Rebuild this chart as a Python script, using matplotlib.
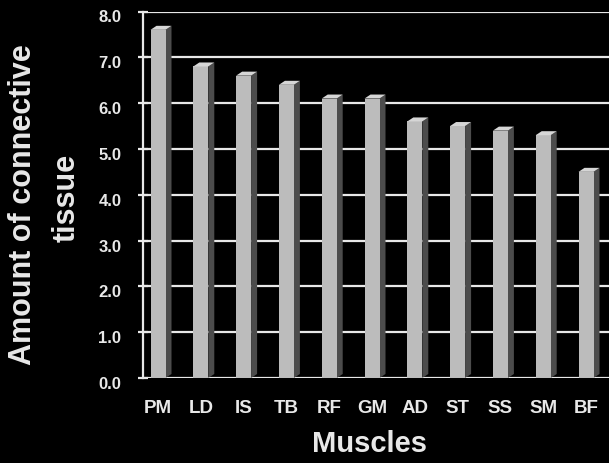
import matplotlib
matplotlib.use("Agg")
import matplotlib.pyplot as plt
from matplotlib.patches import Polygon
import matplotlib.transforms as mtransforms

# Connective tissue amount per muscle
muscles = ["PM", "LD", "IS", "TB", "RF", "GM", "AD", "ST", "SS", "SM", "BF"]
amounts = [7.6, 6.8, 6.6, 6.4, 6.1, 6.1, 5.6, 5.5, 5.4, 5.3, 4.5]
y_ticks = [0.0, 1.0, 2.0, 3.0, 4.0, 5.0, 6.0, 7.0, 8.0]

W, H, DPI = 609, 463, 100
BG = "#000000"
FG = "#e8e8e8"
FRONT = "#bcbcbc"
SIDE = "#4c4c4c"
TOP = "#d6d6d6"

plt.rcParams["font.family"] = ["Liberation Sans", "DejaVu Sans"]
plt.rcParams["font.weight"] = "bold"

fig = plt.figure(figsize=(W / DPI, H / DPI), dpi=DPI, facecolor=BG)
ax_left, ax_right = 143 / W, 1.0
ax_top, ax_bot = 1 - 11.5 / H, 1 - 378 / H
ax = fig.add_axes([ax_left, ax_bot, ax_right - ax_left, ax_top - ax_bot])
ax.set_facecolor(BG)

slot_px = 42.8
unit_px = (378 - 11.5) / 8.0
x = list(range(len(muscles)))
ax.set_xlim(-15 / slot_px, (W - 143 - 15) / slot_px)
ax.set_ylim(0, 8)

# horizontal grid on the back wall
for t in y_ticks:
    ax.axhline(t, color=FG, lw=1.6, zorder=1)

bar_w = 15 / slot_px
depth_x = 6 / slot_px
depth_y = 4 / unit_px
bars = ax.bar(x, amounts, width=bar_w, color=FRONT, edgecolor="none", zorder=3)

# side and top faces for the 3-D look
for b in bars:
    x0 = b.get_x()
    x1 = x0 + b.get_width()
    v = b.get_height()
    side = Polygon([(x1, 0), (x1 + depth_x, depth_y), (x1 + depth_x, v + depth_y), (x1, v)],
                   closed=True, facecolor=SIDE, edgecolor="none", zorder=2.5)
    top = Polygon([(x0, v), (x1, v), (x1 + depth_x, v + depth_y), (x0 + depth_x, v + depth_y)],
                  closed=True, facecolor=TOP, edgecolor="none", zorder=3)
    ax.add_patch(side)
    ax.add_patch(top)

for s in ["top", "right", "bottom"]:
    ax.spines[s].set_visible(False)
ax.spines["left"].set_color(FG)
ax.spines["left"].set_linewidth(1.6)

ax.set_yticks(y_ticks)
ax.set_yticklabels([f"{t:.1f}" for t in y_ticks])
ax.tick_params(axis="y", direction="inout", length=7, width=1.6, color=FG,
               labelcolor=FG, labelsize=12, pad=12)
ax.set_xticks(x)
ax.set_xticklabels(muscles)
ax.tick_params(axis="x", length=0, labelcolor=FG, labelsize=13.5, pad=16)

# tick labels sit a little below the back-wall grid lines
shift = mtransforms.ScaledTranslation(0, -5 / DPI, fig.dpi_scale_trans)
for lab in ax.get_yticklabels():
    lab.set_transform(lab.get_transform() + shift)
    lab.set_fontweight("bold")
for lab in ax.get_xticklabels():
    lab.set_fontweight("bold")

fig.text(369 / W, 1 - 444 / H, "Muscles", color=FG, fontsize=21, fontweight="bold",
         ha="center", va="center")
fig.text(23 / W, 1 - 205 / H, "Amount of connective", color=FG, fontsize=22,
         fontweight="bold", rotation=90, ha="center", va="center")
fig.text(67 / W, 1 - 198 / H, "tissue", color=FG, fontsize=22,
         fontweight="bold", rotation=90, ha="center", va="center")

fig.savefig("out.png", dpi=DPI, facecolor=BG)
